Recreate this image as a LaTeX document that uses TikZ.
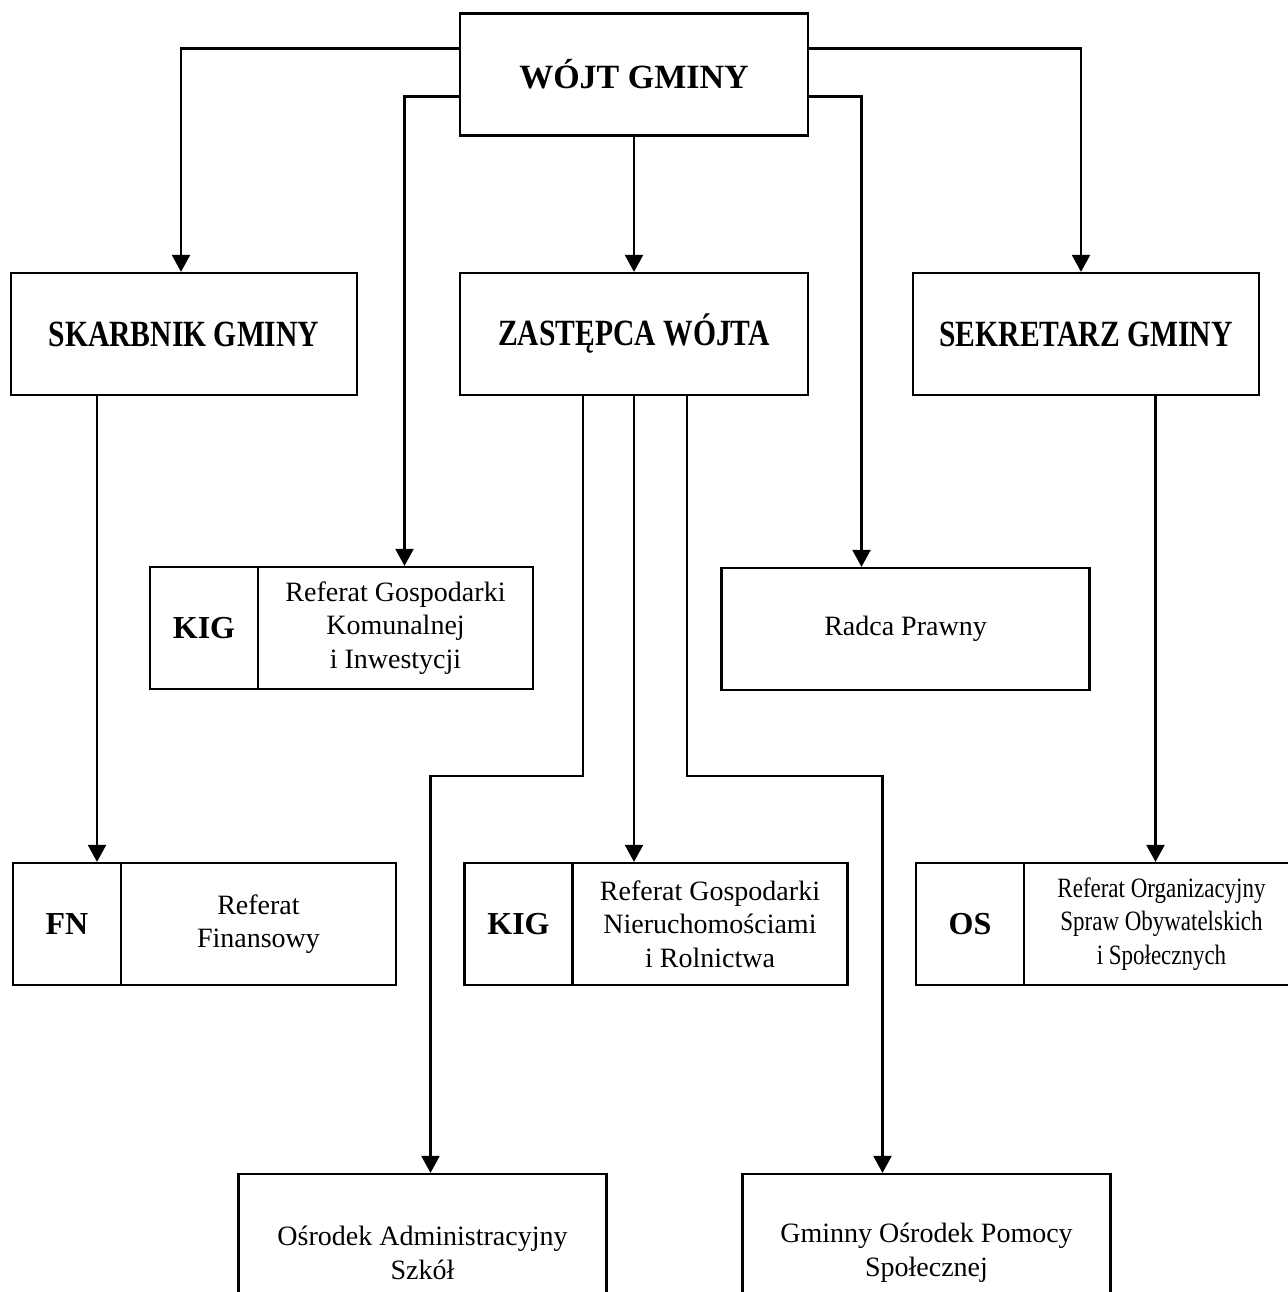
\documentclass[tikz,border=0pt]{standalone}
\usepackage{fontspec}
\setmainfont{Liberation Serif}
\newfontfamily\headfont[FakeStretch=0.8]{Liberation Serif}
\newfontfamily\narrowfont[FakeStretch=0.82]{Liberation Serif}
\usetikzlibrary{arrows.meta,positioning}
\tikzset{
  orgarr/.style={-{Triangle[length=8.5pt,width=9pt]}, line width=1.1pt},
  orgbox/.style={draw, line width=1.1pt, align=center, inner sep=2pt},
  orgtext/.style={font=\fontsize{14}{16.8}\selectfont},
}

\begin{document}
\begin{tikzpicture}[
  x=0.5pt, y=-0.5pt,
  headbox/.style={orgbox, minimum width=173pt, minimum height=61pt, font=\headfont\bfseries\fontsize{18.5}{21}\selectfont},
  codebox/.style={orgbox, minimum width=54pt, minimum height=61pt, font=\bfseries\fontsize{16}{19}\selectfont},
  namebox/.style={orgbox, orgtext, minimum width=137.5pt, minimum height=61pt},
  unitbox/.style={orgbox, orgtext, minimum width=184pt},
]
  \useasboundingbox (0,0) rectangle (1288,1292);
  \node[headbox, font=\bfseries\fontsize{17}{20}\selectfont, minimum width=174pt] (wojt) at (634,74.5) {WÓJT GMINY};
  \node[headbox] (skarb) at (184,334) {SKARBNIK GMINY};
  \node[headbox, minimum width=174pt] (zast) at (634,334) {ZASTĘPCA WÓJTA};
  \node[headbox] (sekr) at (1086,334) {SEKRETARZ GMINY};
  \node[codebox] (kig1c) at (204,628) {KIG};
  \node[namebox, right=-1.1pt of kig1c] (kig1n) {Referat Gospodarki\\Komunalnej\\i Inwestycji};
  \node[unitbox, minimum height=61pt] (radca) at (905.5,629) {Radca Prawny};
  \node[codebox] (fnc) at (67,924) {FN};
  \node[namebox, right=-1.1pt of fnc] (fnn) {Referat\\Finansowy};
  \node[codebox] (kig2c) at (518.5,924) {KIG};
  \node[namebox, right=-1.1pt of kig2c] (kig2n) {Referat Gospodarki\\Nieruchomościami\\i Rolnictwa};
  \node[codebox] (osc) at (970,924) {OS};
  \node[namebox, font=\narrowfont\fontsize{14}{16.8}\selectfont, right=-1.1pt of osc] (osn) {Referat Organizacyjny\\Spraw Obywatelskich\\i Społecznych};
  \node[unitbox, minimum height=79pt] (osr) at (422.5,1253) {Ośrodek Administracyjny\\Szkół};
  \node[unitbox, minimum height=79pt] (gmn) at (926.5,1253) {Gminny Ośrodek Pomocy\\Społecznej};
  \coordinate (split) at (634,776);
  \coordinate (zl) at ([xshift=-25.5pt]zast.south);
  \coordinate (zr) at ([xshift=26.5pt]zast.south);
  \draw[orgarr] ([yshift=13pt]wojt.west) -| ([xshift=-1.5pt]skarb.north);
  \draw[orgarr] ([yshift=-11pt]wojt.west) -| ([xshift=4.5pt]kig1n.north);
  \draw[orgarr] ([yshift=13pt]wojt.east) -| ([xshift=-2.5pt]sekr.north);
  \draw[orgarr] ([yshift=-11pt]wojt.east) -| ([xshift=-22pt]radca.north);
  \draw[orgarr] (wojt) -- (zast);
  \draw[orgarr] ([xshift=15pt]fnc.north |- skarb.south) -- ([xshift=15pt]fnc.north);
  \draw[orgarr] ([xshift=-3pt]osn.north |- sekr.south) -- ([xshift=-3pt]osn.north);
  \draw[orgarr] (zast.south) -- (zast.south |- kig2n.north);
  \draw[orgarr] (zl) -- (zl |- split) -| ([xshift=4pt]osr.north);
  \draw[orgarr] (zr) -- (zr |- split) -| ([xshift=-22pt]gmn.north);
\end{tikzpicture}
\end{document}
